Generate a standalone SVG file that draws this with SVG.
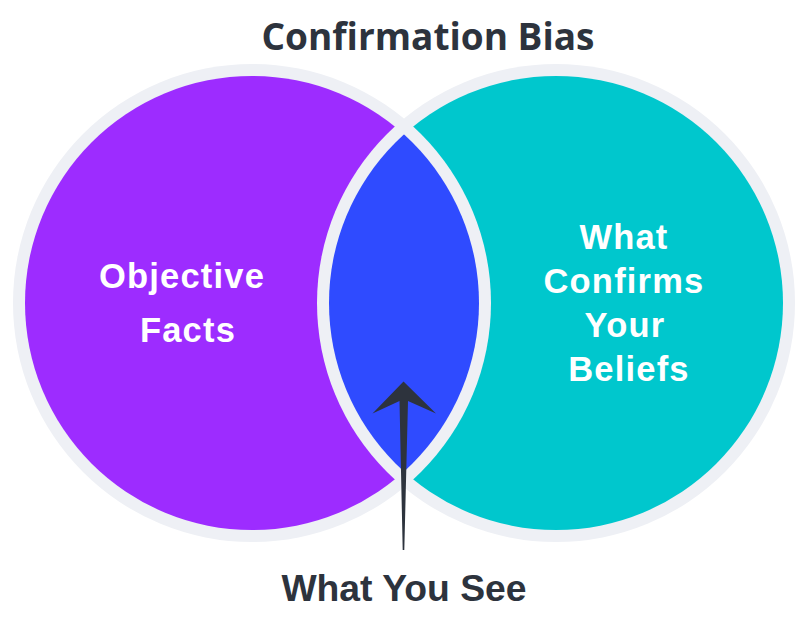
<svg xmlns="http://www.w3.org/2000/svg" width="808" height="628" viewBox="0 0 808 628">
<style>
.ring{fill:#eef0f5}
.lbl{font-family:"Liberation Sans",Arial,sans-serif;font-weight:bold;font-size:34.5px;fill:#ffffff;letter-spacing:1.2px}
.dark{fill:#2d333d}
</style>
<defs>
<clipPath id="leftOuter"><circle cx="252" cy="303" r="239"/></clipPath>
<clipPath id="leftInner"><circle cx="252" cy="303" r="227"/></clipPath>
</defs>
<rect width="808" height="628" fill="#ffffff"/>
<text x="428" y="50" text-anchor="middle" font-family="'Open Sans','Noto Sans',sans-serif" font-weight="bold" font-size="37" class="dark">Confirmation Bias</text>
<g id="left-circle">
<circle class="ring" cx="252" cy="303" r="239"/>
</g>
<g id="right-circle">
<circle class="ring" cx="556" cy="303" r="239"/>
</g>
<g id="objective-facts">
<circle cx="252" cy="303" r="227" fill="#9d2cff"/>
</g>
<g id="confirms-beliefs">
<circle cx="556" cy="303" r="227" fill="#00c7cd"/>
</g>
<g id="what-you-see-overlap">
<circle class="ring" cx="556" cy="303" r="239" clip-path="url(#leftOuter)"/>
<circle cx="556" cy="303" r="227" fill="#2f4bff" clip-path="url(#leftInner)"/>
</g>
<g id="labels">
<text class="lbl" x="182" y="288" text-anchor="middle">Objective</text>
<text class="lbl" x="188" y="342" text-anchor="middle">Facts</text>
<text class="lbl" x="624" y="249" text-anchor="middle">What</text>
<text class="lbl" x="624" y="293" text-anchor="middle">Confirms</text>
<text class="lbl" x="625" y="337" text-anchor="middle">Your</text>
<text class="lbl" x="629" y="381" text-anchor="middle">Beliefs</text>
</g>
<g id="connectors">
<path class="dark" d="M403.5,381.5 L436,413.5 L408,401 L404.3,550 L402.7,550 L399.5,401 L372.5,413.5 Z"/>
</g>
<g id="what-you-see">
<text x="404" y="601" text-anchor="middle" font-family="'Liberation Sans',Arial,sans-serif" font-weight="bold" font-size="37.3" class="dark">What You See</text>
</g>
</svg>
